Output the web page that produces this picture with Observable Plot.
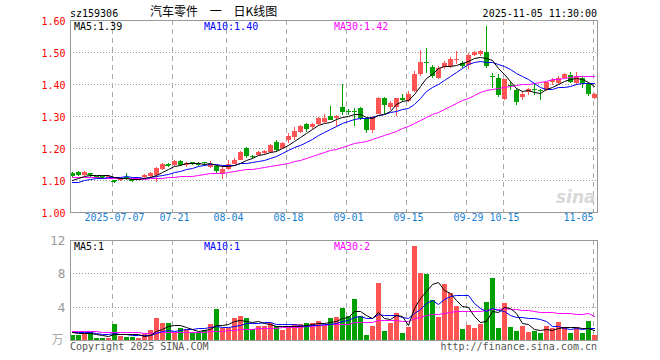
<!DOCTYPE html>
<html>
<head>
<meta charset="utf-8">
<script src="https://cdn.jsdelivr.net/npm/d3@7"></script>
<script src="https://cdn.jsdelivr.net/npm/@observablehq/plot@0.6"></script>
<style>
html,body{margin:0;padding:0;background:#fff;}
#chart{position:relative;width:660px;height:360px;overflow:hidden;background:#fff;}
#chart > svg{position:absolute;left:0;}
</style>
</head>
<body>
<div id="chart"></div>
<script>
// ---- data ----
const code = "sz159306";
const title = "汽车零件 一 日K线图";
const timestamp = "2025-11-05 11:30:00";

const opens = [1.122,1.125,1.116,1.122,1.112,1.113,1.108,1.099,1.099,1.108,
1.103,1.101,1.109,1.111,1.116,1.134,1.151,1.147,1.160,1.147,
1.156,1.153,1.156,1.141,1.143,1.122,1.135,1.151,1.163,1.201,
1.176,1.178,1.183,1.186,1.220,1.200,1.224,1.234,1.249,1.276,
1.266,1.276,1.282,1.301,1.293,1.328,1.317,1.317,1.325,1.293,
1.257,1.307,1.356,1.327,1.328,1.357,1.347,1.377,1.430,1.470,
1.453,1.420,1.453,1.455,1.474,1.467,1.460,1.492,1.495,1.501,
1.426,1.419,1.353,1.398,1.380,1.359,1.374,1.384,1.382,1.380,
1.407,1.403,1.419,1.429,1.403,1.419,1.401,1.355];

const closes = [1.113,1.116,1.124,1.119,1.107,1.110,1.113,1.096,1.107,1.105,
1.100,1.104,1.117,1.121,1.137,1.151,1.148,1.159,1.147,1.153,
1.153,1.150,1.152,1.151,1.127,1.135,1.151,1.163,1.188,1.176,
1.172,1.186,1.190,1.209,1.195,1.216,1.236,1.252,1.270,1.260,
1.275,1.295,1.295,1.288,1.301,1.311,1.312,1.313,1.293,1.255,
1.297,1.356,1.335,1.340,1.355,1.349,1.370,1.432,1.470,1.466,
1.426,1.450,1.466,1.478,1.478,1.455,1.490,1.499,1.503,1.455,
1.422,1.366,1.415,1.393,1.345,1.370,1.384,1.380,1.377,1.405,
1.413,1.420,1.432,1.405,1.424,1.403,1.370,1.368];

const highs = [1.124,1.127,1.128,1.123,1.114,1.114,1.115,1.101,1.110,1.121,
1.104,1.106,1.119,1.125,1.141,1.154,1.152,1.161,1.163,1.157,
1.157,1.157,1.157,1.158,1.146,1.143,1.163,1.169,1.190,1.203,
1.178,1.192,1.193,1.213,1.226,1.219,1.247,1.265,1.273,1.278,
1.279,1.297,1.307,1.332,1.303,1.400,1.322,1.325,1.328,1.297,
1.300,1.358,1.358,1.346,1.357,1.370,1.377,1.440,1.507,1.513,
1.460,1.455,1.471,1.484,1.502,1.472,1.497,1.503,1.507,1.582,
1.434,1.432,1.417,1.408,1.387,1.377,1.386,1.400,1.384,1.408,
1.418,1.426,1.434,1.436,1.437,1.424,1.405,1.372];

const lows = [1.110,1.112,1.114,1.109,1.105,1.108,1.106,1.092,1.098,1.101,
1.093,1.099,1.107,1.108,1.094,1.132,1.140,1.145,1.144,1.141,
1.148,1.145,1.145,1.137,1.122,1.104,1.132,1.149,1.161,1.169,
1.166,1.174,1.180,1.184,1.188,1.196,1.215,1.226,1.247,1.249,
1.258,1.273,1.278,1.286,1.266,1.304,1.304,1.268,1.288,1.247,
1.247,1.305,1.307,1.320,1.300,1.343,1.345,1.375,1.424,1.434,
1.419,1.415,1.447,1.450,1.463,1.450,1.447,1.488,1.487,1.450,
1.387,1.359,1.351,1.382,1.334,1.349,1.367,1.366,1.351,1.378,
1.398,1.401,1.417,1.403,1.398,1.387,1.363,1.352];

// volume, in 万
const volumes = [0.61,0.61,0.80,1.00,0.29,0.29,0.29,1.96,0.49,0.41,
0.41,0.29,0.73,1.20,2.60,2.08,2.08,0.86,1.50,1.35,
1.00,0.94,1.22,1.96,3.67,1.39,1.39,2.70,2.94,2.70,
1.30,1.71,1.71,2.04,1.63,1.22,1.71,1.92,1.92,2.08,
2.00,2.33,1.84,2.70,2.82,3.80,2.94,4.90,2.94,0.61,
1.71,6.86,1.10,2.08,3.30,0.86,1.59,11.27,8.00,7.96,
4.78,2.82,6.73,5.67,4.04,1.35,1.84,1.47,1.96,4.53,
7.47,1.47,4.41,1.59,1.10,1.71,0.98,1.10,0.86,1.71,
1.47,2.20,1.59,0.86,1.59,0.86,2.33,0.61];

// sessions before the visible window (only feed the moving averages)
const priorCloses = [1.112,1.118,1.121,1.119,1.116,1.122,1.125,1.120,1.117,1.114,
1.118,1.121,1.116,1.112,1.110,1.114,1.111,1.108,1.113,1.105,
1.094,1.085,1.080,1.083,1.088,1.090,1.095,1.098,1.104];
const priorVolumes = [1.2,0.9,1.4,1.1,0.8,1.3,1.0,1.5,1.2,0.9,
1.1,1.3,1.0,1.2,1.4,0.9,1.1,1.3,1.0,1.2,
1.0,1.2,0.9,1.1,1.05,1.1,0.95,1.0,1.09];

const tickIdx = [7,17,26,36,46,56,66,72,87];
const tickLabels = ["2025-07-07","07-21","08-04","08-18","09-01","09-15","09-29","10-15","11-05"];
const priceTicks = [1.0,1.1,1.2,1.3,1.4,1.5,1.6];
const volTicks = [0,4,8,12];
const maPeriods = [5,10,30];

// ---- styling ----
const RED = "#ff5454", GREEN = "#00a000";
const MA_COLORS = ["#000000","#0000ff","#ff00ff"];
const AXIS_BLUE = "#1a7fd4";
const MONO = "'DejaVu Sans Mono', monospace";

// ---- derived ----
const P = priorCloses.length;
const allCloses = priorCloses.concat(closes);
const allVolumes = priorVolumes.concat(volumes);
const avg = (arr, n, i) => d3.mean(arr.slice(P + i - n + 1, P + i + 1));
const candles = closes.map((c, i) => ({
  i, open: opens[i], high: highs[i], low: lows[i], close: c, volume: volumes[i],
  up: c >= opens[i],
  ma5: avg(allCloses, 5, i), ma10: avg(allCloses, 10, i), ma30: avg(allCloses, 30, i),
  vma5: avg(allVolumes, 5, i), vma10: avg(allVolumes, 10, i), vma30: avg(allVolumes, 30, i)
}));
const N = candles.length;
const ups = candles.filter(d => d.up), downs = candles.filter(d => !d.up);
const dojiUp = ups.filter(d => Math.abs(d.close - d.open) < 0.004);
const dojiDown = downs.filter(d => Math.abs(d.close - d.open) < 0.004);
const ticks = tickIdx.map((i, k) => ({i, label: tickLabels[k]}));
const last = candles[N - 1];
const xOpt = {domain: [-0.3, N - 0.55], round: true, axis: null};
const gridOff = 0.28;

const root = document.getElementById("chart");

// ---- price panel ----
const main = Plot.plot({
  width: 660, height: 232,
  marginLeft: 70, marginRight: 63, marginTop: 20, marginBottom: 20,
  style: {background: "transparent", fontFamily: MONO, fontSize: "10px", overflow: "visible"},
  x: xOpt,
  y: {domain: [priceTicks[0], priceTicks[priceTicks.length - 1]], round: true, axis: null},
  marks: [
    Plot.ruleY(priceTicks.slice(1, -1), {stroke: "#999", strokeDasharray: "1,2"}),
    Plot.ruleX(tickIdx, {x: d => d - gridOff, stroke: "#aaa", strokeDasharray: "5,4"}),
    Plot.text(priceTicks, {y: d => d, text: d => d.toFixed(2), frameAnchor: "left", textAnchor: "end", dx: -5, dy: 1, fill: "#ff0000"}),
    Plot.ruleX(ups, {x: "i", y1: "low", y2: "high", stroke: RED}),
    Plot.ruleX(downs, {x: "i", y1: "low", y2: "high", stroke: GREEN}),
    Plot.ruleX(ups, {x: "i", y1: "open", y2: "close", stroke: RED, strokeWidth: 5}),
    Plot.ruleX(downs, {x: "i", y1: "open", y2: "close", stroke: GREEN, strokeWidth: 5}),
    Plot.ruleY(dojiUp, {y: "close", x1: d => d.i - 0.4, x2: d => d.i + 0.4, stroke: RED}),
    Plot.ruleY(dojiDown, {y: "close", x1: d => d.i - 0.4, x2: d => d.i + 0.4, stroke: GREEN}),
    Plot.line(candles, {x: "i", y: "ma30", stroke: MA_COLORS[2], strokeWidth: 1}),
    Plot.line(candles, {x: "i", y: "ma10", stroke: MA_COLORS[1], strokeWidth: 1}),
    Plot.line(candles, {x: "i", y: "ma5", stroke: MA_COLORS[0], strokeWidth: 1}),
    Plot.text(ticks.slice(0, -1), {x: "i", text: "label", frameAnchor: "bottom", dy: 8, fill: AXIS_BLUE}),
    Plot.text(ticks.slice(-1), {x: d => d.i - gridOff, text: "label", frameAnchor: "bottom", textAnchor: "end", dy: 8, fill: AXIS_BLUE}),
    Plot.text(["sina"], {frameAnchor: "bottom-right", dx: -2, dy: -10, text: d => d, fill: "#d8d8d8", fontSize: 17, fontWeight: "bold", fontStyle: "italic", fontFamily: "'DejaVu Sans', sans-serif", textAnchor: "end"}),
    Plot.frame({stroke: "#999"})
  ]
});
main.style.top = "0px";
root.appendChild(main);

// ---- volume panel ----
const vol = Plot.plot({
  width: 660, height: 128,
  marginLeft: 70, marginRight: 63, marginTop: 8, marginBottom: 20,
  style: {background: "transparent", fontFamily: MONO, fontSize: "10px", overflow: "visible"},
  x: xOpt,
  y: {domain: [volTicks[0], volTicks[volTicks.length - 1]], round: true, axis: null},
  marks: [
    Plot.ruleY(volTicks.slice(1, -1), {stroke: "#999", strokeDasharray: "1,2"}),
    Plot.ruleX(tickIdx, {x: d => d - gridOff, stroke: "#aaa", strokeDasharray: "5,4"}),
    Plot.text(volTicks.slice(1), {y: d => d, text: d => String(d), frameAnchor: "left", textAnchor: "end", dx: -5, dy: 1, fill: "#999", fontSize: 12, fontFamily: "'DejaVu Sans', sans-serif"}),
    Plot.text(["万"], {y: volTicks[0], text: d => d, frameAnchor: "left", textAnchor: "end", dx: -7, dy: 0, fill: "#aaa", fontSize: 12, fontFamily: "'Noto Sans CJK SC', sans-serif"}),
    Plot.ruleX(ups, {x: "i", y1: 0, y2: "volume", stroke: RED, strokeWidth: 5}),
    Plot.ruleX(downs, {x: "i", y1: 0, y2: "volume", stroke: GREEN, strokeWidth: 5}),
    Plot.line(candles, {x: "i", y: "vma30", stroke: MA_COLORS[2], strokeWidth: 1}),
    Plot.line(candles, {x: "i", y: "vma10", stroke: MA_COLORS[1], strokeWidth: 1}),
    Plot.line(candles, {x: "i", y: "vma5", stroke: MA_COLORS[0], strokeWidth: 1}),
    Plot.frame({stroke: "#999"})
  ]
});
vol.style.top = "232px";
root.appendChild(vol);

// ---- text overlay ----
const svg = d3.create("svg").attr("width", 660).attr("height", 360)
  .style("position", "absolute").style("top", "0px").style("left", "0px")
  .style("pointer-events", "none").style("font-family", MONO).style("font-size", "10px");
const put = (x, y, txt, fill, anchor = "start") =>
  svg.append("text").attr("x", x).attr("y", y).attr("fill", fill).attr("text-anchor", anchor).text(txt);

put(70, 16.5, code, "#000");
put(597, 16.5, timestamp, "#000", "end");
svg.append("text").attr("x", 150).attr("y", 16).attr("fill", "#000")
  .style("font-family", "'Noto Sans CJK SC', sans-serif").style("font-size", "12px")
  .style("word-spacing", "9px").text(title);

const priceMA = [last.ma5, last.ma10, last.ma30];
const volMA = [last.vma5, last.vma10, last.vma30];
maPeriods.forEach((p, k) => {
  put(74 + 130 * k, 29.5, `MA${p}:${priceMA[k].toFixed(2)}`, MA_COLORS[k]);
  put(74 + 130 * k, 250, `MA${p}:${Math.floor(volMA[k])}`, MA_COLORS[k]);
});
put(70, 349.5, "Copyright 2025 SINA.COM", "#555");
put(597, 349.5, "http://finance.sina.com.cn", "#555", "end");
root.appendChild(svg.node());
</script>
</body>
</html>
